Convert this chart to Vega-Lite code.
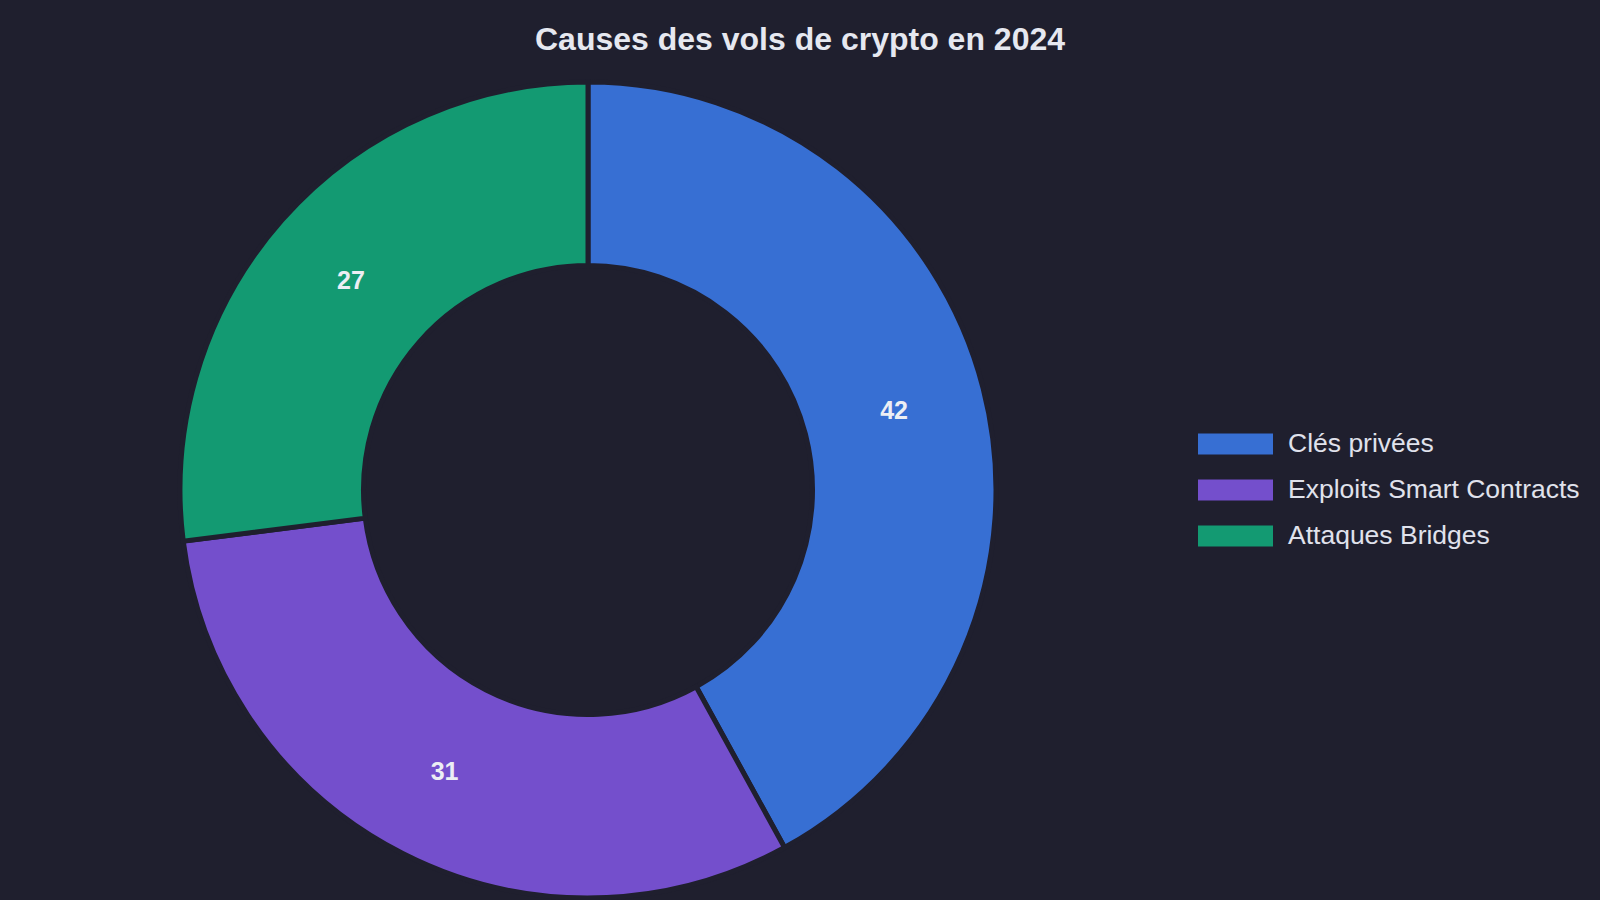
{
  "$schema": "https://vega.github.io/schema/vega-lite/v6.json",
  "autosize": "none",
  "width": 1176,
  "height": 800,
  "padding": {"left": 0, "top": 90, "right": 424, "bottom": 10},
  "background": "#1f1f2e",
  "title": {
    "text": "Causes des vols de crypto en 2024",
    "anchor": "middle",
    "frame": "group",
    "fontSize": 32,
    "fontWeight": "bold",
    "font": "Liberation Sans",
    "color": "#e6e8f0",
    "offset": 15,
    "dx": 212
  },
  "data": {
    "values": [
      {"cause": "Clés privées", "value": 42, "ord": 1},
      {"cause": "Exploits Smart Contracts", "value": 31, "ord": 2},
      {"cause": "Attaques Bridges", "value": 27, "ord": 3}
    ]
  },
  "encoding": {
    "theta": {"field": "value", "type": "quantitative", "stack": true},
    "order": {"field": "ord", "type": "quantitative"}
  },
  "layer": [
    {
      "mark": {"type": "arc", "outerRadius": 408, "innerRadius": 224.5, "stroke": "#1f1f2e", "strokeWidth": 5},
      "encoding": {
        "color": {
          "field": "cause",
          "type": "nominal",
          "scale": {
            "domain": ["Clés privées", "Exploits Smart Contracts", "Attaques Bridges"],
            "range": ["#376fd3", "#744fcc", "#139a72"]
          },
          "legend": {
            "title": null,
            "orient": "none",
            "legendX": 1198,
            "legendY": 331,
            "symbolType": "M-1,-0.28L1,-0.28L1,0.28L-1,0.28Z",
            "symbolSize": 5625,
            "symbolStrokeWidth": 0,
            "labelFontSize": 26.5,
            "labelFont": "Liberation Sans",
            "labelColor": "#e0e2ec",
            "labelOffset": 15,
            "labelLimit": 400,
            "clipHeight": 46,
            "rowPadding": 0
          }
        }
      }
    },
    {
      "mark": {"type": "text", "radius": 316, "fontSize": 25, "fontWeight": "bold", "font": "Liberation Sans", "fill": "#eceef4"},
      "encoding": {
        "text": {"field": "value", "type": "quantitative"}
      }
    }
  ]
}
